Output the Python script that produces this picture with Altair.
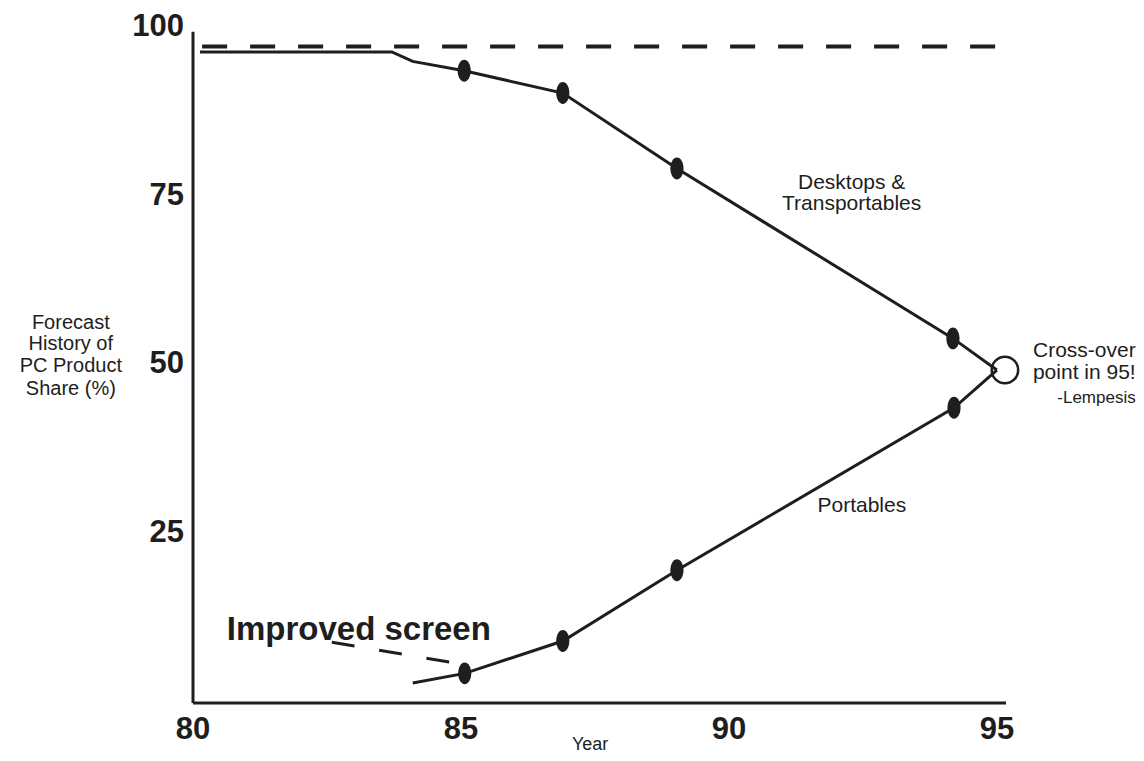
import altair as alt
import pandas as pd

# ---- data ----
desk_x = [80.13, 83.71, 84.10, 85.06, 86.90, 89.03, 94.18, 95.0]
desk_y = [96.3, 96.3, 94.9, 93.5, 90.2, 79.0, 53.8, 49.1]
desk_dot_x = [85.06, 86.90, 89.03, 94.18]
desk_dot_y = [93.5, 90.2, 79.0, 53.8]

port_x = [84.10, 85.07, 86.90, 89.03, 94.20, 95.0]
port_y = [2.66, 4.1, 8.9, 19.4, 43.5, 49.1]
port_dot_x = [85.07, 86.90, 89.03, 94.20]
port_dot_y = [4.1, 8.9, 19.4, 43.5]

cross_x = [95.15]
cross_y = [49.1]

ref_line_x = [80.17, 95.04]
ref_line_y = [97.1]

annot_x = [82.59, 84.79]
annot_y = [8.73, 5.77]

x_ticks = [80, 85, 90, 95]
y_ticks = [100, 75, 50, 25]

ytitle_lines = ["Forecast", "History  of", "PC Product", "Share (%)"]
ytitle_y = [56.1, 53.0, 49.7, 46.3]
ytitle_x = 77.72

desk_label = ["Desktops &", "Transportables"]
desk_label_y = [76.9, 73.7]
desk_label_x = 92.29

port_label = "Portables"
port_label_xy = (92.48, 29.0)

cross_label = ["Cross-over", "point in 95!"]
cross_label_y = [51.9, 48.7]
cross_label_x = 97.59
lemp_label = "-Lempesis"
lemp_label_y = 45.0

screen_label = "Improved screen"
screen_label_xy = (80.63, 9.0)

year_label = "Year"
year_label_x = 87.41

axis_x = [80, 95.17]
axis_y = [-0.3, 99.3]

FONT = "Liberation Sans"
INK = "#1e1e1e"

xs = alt.Scale(domain=[80, 95.17], nice=False, zero=False)
ys = alt.Scale(domain=[0, 100], nice=False, zero=False)


def X(f="x"):
    return alt.X(f"{f}:Q", scale=xs, axis=None)


def Y(f="y"):
    return alt.Y(f"{f}:Q", scale=ys, axis=None)


# axes lines
x_axis = alt.Chart(pd.DataFrame({"x": [axis_x[0]], "x2": [axis_x[1]], "y": [axis_y[0]]})).mark_rule(
    color=INK, strokeWidth=3).encode(x=X(), x2="x2:Q", y=Y())
y_axis = alt.Chart(pd.DataFrame({"x": [axis_x[0]], "y": [axis_y[0]], "y2": [axis_y[1]]})).mark_rule(
    color=INK, strokeWidth=3).encode(x=X(), y=Y(), y2="y2:Q")

# top dashed reference line
ref_line = alt.Chart(pd.DataFrame({"x": [ref_line_x[0]], "x2": [ref_line_x[1]], "y": ref_line_y})).mark_rule(
    color=INK, strokeWidth=4, strokeDash=[25, 23]).encode(x=X(), x2="x2:Q", y=Y())

# series lines
desk_df = pd.DataFrame({"x": desk_x, "y": desk_y, "o": list(range(len(desk_x)))})
port_df = pd.DataFrame({"x": port_x, "y": port_y, "o": list(range(len(port_x)))})
desk_line = alt.Chart(desk_df).mark_line(color=INK, strokeWidth=3).encode(x=X(), y=Y(), order="o:Q")
port_line = alt.Chart(port_df).mark_line(color=INK, strokeWidth=3).encode(x=X(), y=Y(), order="o:Q")

ELLIPSE = "M0,-1A0.6,1,0,1,1,0,1A0.6,1,0,1,1,0,-1Z"
dots_df = pd.DataFrame({"x": desk_dot_x + port_dot_x, "y": desk_dot_y + port_dot_y})
dots = alt.Chart(dots_df).mark_point(shape=ELLIPSE, filled=True, size=480, color=INK, opacity=1).encode(
    x=X(), y=Y())

cross = alt.Chart(pd.DataFrame({"x": cross_x, "y": cross_y})).mark_point(
    shape="circle", filled=False, size=700, color=INK, strokeWidth=2.5, opacity=1).encode(x=X(), y=Y())

# annotation dashed pointer
annot = alt.Chart(pd.DataFrame({"x": annot_x, "y": annot_y})).mark_line(
    color=INK, strokeWidth=3, strokeDash=[23, 25]).encode(x=X(), y=Y())

# tick labels
xt = alt.Chart(pd.DataFrame({"x": x_ticks, "y": [0] * len(x_ticks), "t": [str(v) for v in x_ticks]})).mark_text(
    font=FONT, fontSize=31, fontWeight="bold", color=INK, align="center", baseline="alphabetic", dy=38).encode(
    x=X(), y=Y(), text="t:N")
yt = alt.Chart(pd.DataFrame({"x": [80] * len(y_ticks), "y": y_ticks, "t": [str(v) for v in y_ticks]})).mark_text(
    font=FONT, fontSize=31, fontWeight="bold", color=INK, align="right", baseline="middle", dx=-9, dy=0).encode(
    x=X(), y=Y(), text="t:N")


def text_layer(xv, yv, texts, size, align="center", weight="normal", baseline="middle", dy=0):
    df = pd.DataFrame({"x": xv, "y": yv, "t": texts})
    return alt.Chart(df).mark_text(font=FONT, fontSize=size, fontWeight=weight, color=INK, align=align,
                                   baseline=baseline, dy=dy).encode(x=X(), y=Y(), text="t:N")


ytitle = text_layer([ytitle_x] * 4, ytitle_y, ytitle_lines, 20)
desk_lab = text_layer([desk_label_x] * 2, desk_label_y, desk_label, 21)
port_lab = text_layer([port_label_xy[0]], [port_label_xy[1]], [port_label], 21)
cross_lab = text_layer([cross_label_x] * 2, cross_label_y, cross_label, 21, align="right")
lemp_lab = text_layer([cross_label_x], [lemp_label_y], [lemp_label], 17, align="right")
screen_lab = text_layer([screen_label_xy[0]], [screen_label_xy[1]], [screen_label], 33, align="left",
                        weight="bold", baseline="alphabetic")
year_lab = text_layer([year_label_x], [0], [year_label], 18, dy=44)

chart = alt.layer(
    x_axis, y_axis, ref_line, desk_line, port_line, annot, dots, cross,
    xt, yt, ytitle, desk_lab, port_lab, cross_lab, lemp_lab, screen_lab, year_lab,
).properties(
    width=813, height=674,
    autosize=alt.AutoSizeParams(type="none"),
    padding={"left": 185, "top": 19, "right": 130, "bottom": 52},
    background="white",
).configure_view(stroke=None)

chart.save("out.html", embed_options={"renderer": "svg", "actions": False})
